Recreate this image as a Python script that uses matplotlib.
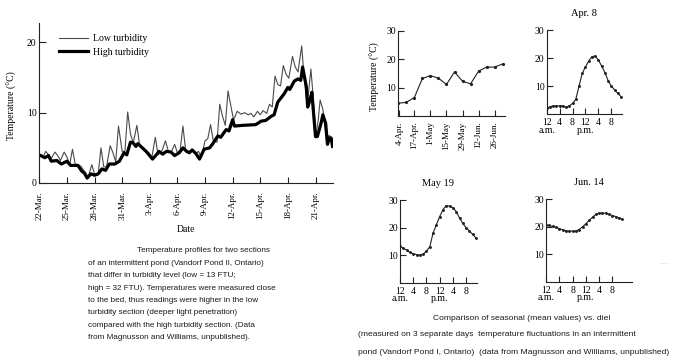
import numpy as np
import matplotlib
matplotlib.use("Agg")
import matplotlib.pyplot as plt
import pandas as pd

SERIF = "Liberation Serif"
SANS = "Liberation Sans"

# ---- main chart: days after 22-Mar, temperature (C)
low_day = [0, 0.4, 0.7, 1.0, 1.3, 1.7, 2.0, 2.3, 2.7, 3.0, 3.3, 3.6, 3.9, 4.5, 5.0, 5.3,
           5.7, 6.0, 6.4, 6.7, 7.0, 7.3, 7.7, 8.0, 8.3, 8.6, 9.0, 9.3, 9.6, 9.9, 10.2,
           10.6, 10.9, 11.3, 11.9, 12.2, 12.6, 12.9, 13.3, 13.7, 14.0, 14.3, 14.7, 15.0,
           15.3, 15.6, 15.9, 16.3, 16.6, 17.0, 17.3, 17.6, 18.0, 18.3, 18.6, 18.9, 19.3,
           19.6, 19.9, 20.2, 20.5, 20.8, 21.1, 21.5, 21.9, 22.3, 22.7, 23.0, 23.3, 23.7,
           24.0, 24.3, 24.7, 25.0, 25.3, 25.6, 25.9, 26.2, 26.5, 26.8, 27.1, 27.5, 27.8,
           28.1, 28.5, 28.7, 29.1, 29.5, 29.7, 30.05, 30.3, 30.5, 30.8, 31.2, 31.5, 31.7, 31.85]
low_temp = [4.0, 3.7, 4.5, 4.0, 3.5, 4.4, 3.9, 3.2, 4.4, 3.7, 2.6, 4.8, 2.7, 2.4, 1.5, 0.8,
            2.6, 1.3, 1.3, 5.0, 2.3, 2.3, 5.3, 4.3, 3.0, 8.1, 4.5, 4.5, 10.1, 7.0, 5.7,
            8.2, 5.3, 4.8, 4.3, 3.5, 6.5, 4.0, 4.5, 6.0, 4.6, 4.3, 5.5, 4.3,
            4.7, 8.1, 4.6, 4.5, 4.7, 4.2, 4.5, 3.6, 6.0, 6.3, 8.3, 6.0, 5.8,
            11.2, 9.5, 8.2, 13.1, 11.0, 9.0, 10.2, 9.8, 10.0, 9.7, 9.9, 9.4, 10.2,
            9.7, 10.3, 9.9, 11.2, 10.8, 15.2, 14.0, 13.8, 16.7, 15.5, 14.9, 18.0, 16.5,
            15.8, 19.5, 16.0, 11.0, 16.2, 13.0, 6.8, 9.0, 11.8, 10.5, 6.0, 6.8, 6.3, 5.3]

high_day = [0, 0.6, 1.0, 1.3, 1.9, 2.4, 3.0, 3.4, 4.2, 4.6, 4.9, 5.2, 5.6, 6.0, 6.4, 6.8,
            7.2, 7.6, 8.2, 8.7, 9.2, 9.5, 9.9, 10.2, 10.5, 10.7, 11.6, 12.3, 12.7, 13.0,
            13.4, 13.8, 14.3, 14.7, 15.2, 15.6, 16.0, 16.3, 16.6, 17.0, 17.4, 17.9, 18.5,
            18.8, 19.4, 19.7, 20.3, 20.6, 21.0, 21.2, 22.1, 23.5, 24.1, 24.6, 25.2, 25.5,
            25.9, 26.6, 27.0, 27.2, 27.7, 28.1, 28.4, 28.6, 29.0, 29.15, 29.4, 29.6, 30.0,
            30.2, 30.6, 30.8, 31.1, 31.3, 31.5, 31.7, 31.85]
high_temp = [4.0, 3.6, 3.9, 3.1, 3.2, 2.7, 3.1, 2.5, 2.5, 1.7, 1.4, 0.7, 1.3, 1.1, 1.3, 2.0,
             1.8, 2.7, 2.7, 3.1, 4.3, 4.0, 5.8, 5.7, 5.2, 5.6, 4.5, 3.4, 4.0, 4.5,
             4.1, 4.5, 4.4, 3.9, 4.3, 5.0, 4.5, 4.3, 4.7, 4.2, 3.4, 4.8, 5.0,
             5.5, 6.7, 6.5, 7.6, 7.4, 9.0, 8.1, 8.2, 8.3, 8.8, 8.9, 9.5, 9.7,
             11.5, 12.7, 13.6, 13.3, 14.5, 14.8, 14.6, 16.5, 13.7, 10.8, 11.8, 12.9, 6.6,
             6.6, 8.5, 9.7, 8.5, 5.5, 6.4, 6.4, 5.2]

main_ticks = ["22-Mar.", "25-Mar.", "28-Mar.", "31-Mar.", "3-Apr.", "6-Apr.",
              "9-Apr.", "12-Apr.", "15-Apr.", "18-Apr.", "21-Apr."]

# ---- seasonal means (weekly)
season_dates = ["2000-04-03", "2000-04-10", "2000-04-17", "2000-04-24", "2000-05-01",
                "2000-05-08", "2000-05-15", "2000-05-22", "2000-05-29", "2000-06-05",
                "2000-06-12", "2000-06-19", "2000-06-26", "2000-07-03"]
season_temp = [4.5, 4.8, 6.5, 13.2, 14.2, 13.3, 11.1, 15.5, 12.2, 11.3, 15.8, 17.2, 17.2, 18.3]
season_tick_dates = ["2000-04-04", "2000-04-17", "2000-05-01", "2000-05-15",
                     "2000-05-29", "2000-06-12", "2000-06-26"]
season_ticks = ["4-Apr.", "17-Apr.", "1-May", "15-May", "29-May", "12-Jun.", "26-Jun."]

# ---- diel curves (hourly from midnight)
hours = list(range(24))
apr8 = [2.0, 2.6, 2.9, 2.9, 2.9, 2.9, 2.4, 2.9, 3.8, 5.2, 10.0, 14.5,
        16.9, 18.9, 20.5, 20.7, 19.3, 17.1, 14.8, 11.9, 10.0, 8.6, 7.4, 6.2]
may19 = [13.3, 12.5, 11.8, 11.0, 10.5, 10.2, 10.0, 10.3, 11.5, 13.0, 18.0, 21.0,
         24.0, 26.5, 28.0, 27.7, 27.2, 25.8, 23.5, 21.5, 20.0, 18.8, 17.5, 16.2]
jun14 = [20.7, 20.5, 20.1, 19.8, 19.3, 18.9, 18.5, 18.4, 18.4, 18.5, 19.0, 20.0,
         21.1, 22.3, 23.5, 24.5, 25.0, 25.0, 24.9, 24.5, 24.1, 23.7, 23.2, 22.8]
diel_ticks = [0, 4, 8, 12, 16, 20]
diel_labels = ["12\na.m.", "4", "8", "12\np.m.", "4", "8"]

caption_left = ["Temperature profiles for two sections",
                "of an intermittent pond (Vandorf Pond II, Ontario)",
                "that differ in turbidity level (low = 13 FTU;",
                "high = 32 FTU). Temperatures were measured close",
                "to the bed, thus readings were higher in the low",
                "turbidity section (deeper light penetration)",
                "compared with the high turbidity section. (Data",
                "from Magnusson and Williams, unpublished)."]
caption_right = ["Comparison of seasonal (mean values) vs. diel",
                 "(measured on 3 separate days  temperature fluctuations in an intermittent",
                 "pond (Vandorf Pond I, Ontario)  (data from Magnusson and Williams, unpublished)"]

W, H = 677, 358
fig = plt.figure(figsize=(W / 100, H / 100), dpi=100)


def px_axes(x0, y0, x1, y1):
    # pixel box (left, top, right, bottom) -> figure axes
    return fig.add_axes([x0 / W, 1 - y1 / H, (x1 - x0) / W, (y1 - y0) / H])


def clean(ax, size):
    for s in ["top", "right"]:
        ax.spines[s].set_visible(False)
    for s in ["left", "bottom"]:
        ax.spines[s].set_linewidth(0.8)
        ax.spines[s].set_color("#222222")
    ax.tick_params(direction="in", length=4, width=0.8, color="#222222", labelsize=size)
    for lab in ax.get_xticklabels() + ax.get_yticklabels():
        lab.set_fontfamily(SERIF)


# main chart
ax = px_axes(39.3, 22.7, 333, 183)
ax.plot(low_day, low_temp, color="#4a4a4a", lw=0.8, label="Low turbidity")
ax.plot(high_day, high_temp, color="black", lw=2.3, label="High turbidity")
ax.set_xlim(0, 31.9)
ax.set_ylim(0, 22.8)
ax.set_yticks([0, 10, 20])
ax.set_xticks(np.arange(len(main_ticks)) * 3)
ax.set_xticklabels(main_ticks, rotation=90)
clean(ax, 7)
ax.tick_params(axis="x", labelsize=6.5, pad=6)
ax.tick_params(axis="y", pad=2, length=5)
ax.set_ylabel("Temperature (\u00b0C)", fontfamily=SERIF, fontsize=7)
ax.yaxis.set_label_coords(-0.076, 0.48)
fig.text(186 / W, 1 - 229 / H, "Date", family=SERIF, fontsize=7, ha="center", va="center")
ax.legend(loc="upper left", bbox_to_anchor=(59 / W, 1 - 34 / H), bbox_transform=fig.transFigure,
          frameon=False, borderpad=0, borderaxespad=0, handlelength=3.0, handletextpad=0.5,
          labelspacing=0.5, prop={"family": SERIF, "size": 7})

# seasonal chart
axs = px_axes(398.3, 30.7, 505, 116)
sd = pd.to_datetime(season_dates)
axs.plot(sd, season_temp, color="#222222", lw=0.8, marker="o", ms=1.3)
axs.set_xlim(sd[0], pd.Timestamp("2000-07-05"))
axs.set_ylim(0, 30)
axs.set_yticks([10, 20, 30])
axs.set_xticks(pd.to_datetime(season_tick_dates))
axs.set_xticklabels(season_ticks, rotation=90)
clean(axs, 7)
axs.tick_params(axis="x", labelsize=6.5, pad=4)
axs.tick_params(axis="y", pad=1.5)
axs.set_ylabel("Temperature (\u00b0C)", fontfamily=SERIF, fontsize=7)
axs.yaxis.set_label_coords(-0.17, 0.46)

# diel charts
diel = [("Apr. 8", apr8, (546.7, 30, 621.7, 114), 23.2),
        ("May 19", may19, (400, 200, 476.7, 282.7), 23.2),
        ("Jun. 14", jun14, (546, 199.3, 631.7, 281.7), 25.8)]
for title, temps, box, xmax in diel:
    a = px_axes(*box)
    a.plot(hours, temps, color="#222222", lw=0.8, marker="o", ms=1.1)
    a.set_xlim(0, xmax)
    a.set_ylim(0, 30)
    a.set_yticks([10, 20, 30])
    a.set_xticks(diel_ticks)
    a.set_xticklabels(diel_labels, linespacing=0.8)
    clean(a, 7)
    a.tick_params(axis="x", pad=3)
    a.tick_params(axis="y", pad=1.5)
    a.set_title(title, fontfamily=SERIF, fontsize=7.5, pad=10)

# captions
for i, line in enumerate(caption_left):
    fig.text((137 if i == 0 else 88) / W, 1 - (251 + i * 12.4) / H, line,
             family=SANS, fontsize=5.9, va="center", color="#1a1a1a")
for i, line in enumerate(caption_right):
    fig.text((433 if i == 0 else 358) / W, 1 - (318 + i * 17) / H, line,
             family=SANS, fontsize=6.1, va="center", color="#1a1a1a")
fig.text(665 / W, 1 - 262 / H, "......", family=SANS, fontsize=4, color="#b0b0b0",
         ha="center", va="center")

fig.savefig("out.png", dpi=100)
